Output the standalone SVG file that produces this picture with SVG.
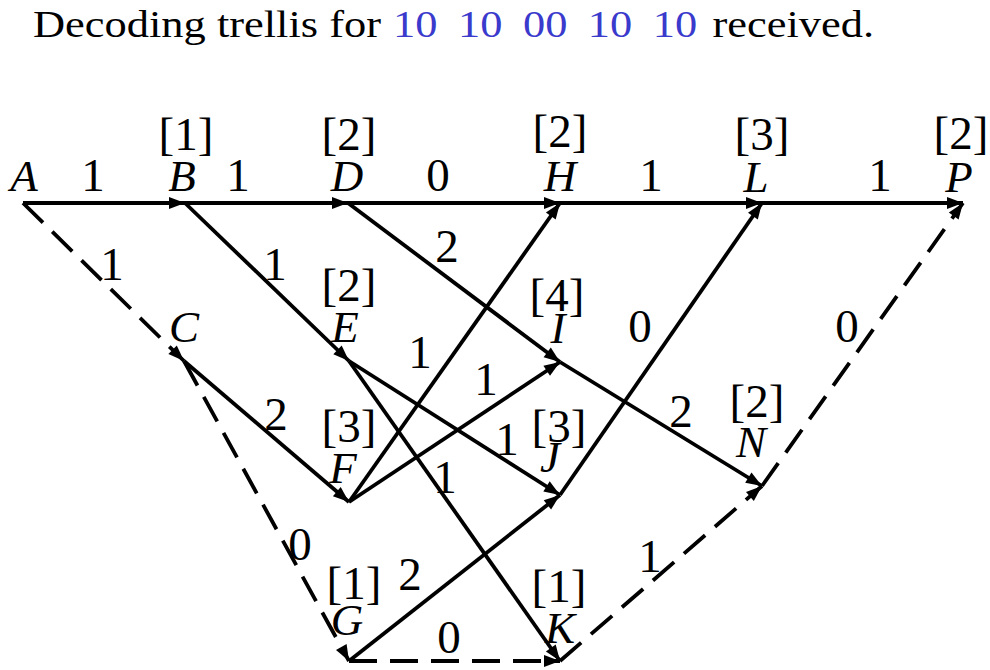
<svg xmlns="http://www.w3.org/2000/svg" width="990" height="670" viewBox="0 0 990 670">
<g id="title" transform="scale(1.17 1)">
<text x="28.2" y="37" font-family="Liberation Serif" font-size="38" fill="#000">Decoding trellis for</text>
<text x="336" y="37" font-family="Liberation Serif" font-size="38" fill="#3a3acc" word-spacing="8">10 10 00 10 10</text>
<text x="609" y="37" font-family="Liberation Serif" font-size="38" fill="#000">received.</text>
</g>
<g id="connectors">
<g stroke="#000" stroke-width="3.8" fill="none">
<line x1="23" y1="203" x2="185" y2="203"/>
<line x1="185" y1="203" x2="348" y2="203"/>
<line x1="348" y1="203" x2="560" y2="203"/>
<line x1="560" y1="203" x2="762" y2="203"/>
<line x1="762" y1="203" x2="963" y2="203"/>
<line stroke-dasharray="28 13" x1="23" y1="203" x2="184" y2="361"/>
<line x1="185" y1="203" x2="349" y2="361"/>
<line x1="348" y1="203" x2="560" y2="362"/>
<line x1="184" y1="361" x2="349" y2="502"/>
<line stroke-dasharray="28 13" x1="184" y1="361" x2="349" y2="661"/>
<line x1="349" y1="361" x2="560" y2="495"/>
<line x1="349" y1="361" x2="560" y2="661"/>
<line x1="349" y1="502" x2="560" y2="203"/>
<line x1="349" y1="502" x2="560" y2="362"/>
<line x1="349" y1="661" x2="560" y2="495"/>
<line stroke-dasharray="28 13" x1="349" y1="661" x2="560" y2="661"/>
<line x1="560" y1="362" x2="762" y2="486"/>
<line x1="560" y1="495" x2="762" y2="203"/>
<line stroke-dasharray="28 13" x1="762" y1="486" x2="963" y2="203"/>
<line stroke-dasharray="28 13" x1="560" y1="661" x2="762" y2="486"/>
</g>
<g fill="#000" stroke="none">
<polygon points="185,203 169,197 169,209"/>
<polygon points="348,203 332,197 332,209"/>
<polygon points="560,203 544,197 544,209"/>
<polygon points="762,203 746,197 746,209"/>
<polygon points="963,203 947,197 947,209"/>
<polygon points="184,361 168.4,354.1 176.8,345.5"/>
<polygon points="349,361 333.3,354.2 341.7,345.6"/>
<polygon points="560,362 543.6,357.2 550.8,347.6"/>
<polygon points="349,502 332.9,496.2 340.7,487"/>
<polygon points="349,661 336,649.9 346.6,644.1"/>
<polygon points="560,495 543.3,491.5 549.7,481.3"/>
<polygon points="560,661 545.9,651.4 555.7,644.5"/>
<polygon points="560,203 555.7,219.5 545.9,212.6"/>
<polygon points="560,362 550,375.8 543.4,365.8"/>
<polygon points="560,495 551.1,509.6 543.7,500.2"/>
<polygon points="560,661 544,655 544,667"/>
<polygon points="762,486 745.2,482.7 751.5,472.5"/>
<polygon points="762,203 757.8,219.6 748,212.8"/>
<polygon points="963,203 958.6,219.5 948.8,212.6"/>
<polygon points="762,486 753.8,501 746,491.9"/>
</g>
<g id="edge-labels" fill="#000">
<text x="93" y="191" font-family="Liberation Serif" font-size="47" text-anchor="middle">1</text>
<text x="238" y="191" font-family="Liberation Serif" font-size="47" text-anchor="middle">1</text>
<text x="438" y="191" font-family="Liberation Serif" font-size="47" text-anchor="middle">0</text>
<text x="651" y="191" font-family="Liberation Serif" font-size="47" text-anchor="middle">1</text>
<text x="880" y="191" font-family="Liberation Serif" font-size="47" text-anchor="middle">1</text>
<text x="112" y="280" font-family="Liberation Serif" font-size="47" text-anchor="middle">1</text>
<text x="275" y="280" font-family="Liberation Serif" font-size="47" text-anchor="middle">1</text>
<text x="447" y="262" font-family="Liberation Serif" font-size="47" text-anchor="middle">2</text>
<text x="276" y="430" font-family="Liberation Serif" font-size="47" text-anchor="middle">2</text>
<text x="300" y="560" font-family="Liberation Serif" font-size="47" text-anchor="middle">0</text>
<text x="507" y="455" font-family="Liberation Serif" font-size="47" text-anchor="middle">1</text>
<text x="445" y="493" font-family="Liberation Serif" font-size="47" text-anchor="middle">1</text>
<text x="420" y="368" font-family="Liberation Serif" font-size="47" text-anchor="middle">1</text>
<text x="486" y="395" font-family="Liberation Serif" font-size="47" text-anchor="middle">1</text>
<text x="410" y="590" font-family="Liberation Serif" font-size="47" text-anchor="middle">2</text>
<text x="449" y="653" font-family="Liberation Serif" font-size="47" text-anchor="middle">0</text>
<text x="681" y="427" font-family="Liberation Serif" font-size="47" text-anchor="middle">2</text>
<text x="640" y="342" font-family="Liberation Serif" font-size="47" text-anchor="middle">0</text>
<text x="847" y="342" font-family="Liberation Serif" font-size="47" text-anchor="middle">0</text>
<text x="650" y="572" font-family="Liberation Serif" font-size="47" text-anchor="middle">1</text>
</g>
</g>
<g id="A"><text x="24" y="191" font-family="Liberation Serif" font-size="45" font-style="italic" text-anchor="middle">A</text></g>
<g id="B"><text x="182" y="191" font-family="Liberation Serif" font-size="45" font-style="italic" text-anchor="middle">B</text><text x="186" y="150" font-family="Liberation Serif" font-size="47" text-anchor="middle">[1]</text></g>
<g id="D"><text x="347" y="191" font-family="Liberation Serif" font-size="45" font-style="italic" text-anchor="middle">D</text><text x="349" y="150" font-family="Liberation Serif" font-size="47" text-anchor="middle">[2]</text></g>
<g id="H"><text x="560" y="191" font-family="Liberation Serif" font-size="45" font-style="italic" text-anchor="middle">H</text><text x="560" y="147" font-family="Liberation Serif" font-size="47" text-anchor="middle">[2]</text></g>
<g id="L"><text x="756" y="192" font-family="Liberation Serif" font-size="45" font-style="italic" text-anchor="middle">L</text><text x="762" y="150" font-family="Liberation Serif" font-size="47" text-anchor="middle">[3]</text></g>
<g id="P"><text x="959" y="192" font-family="Liberation Serif" font-size="45" font-style="italic" text-anchor="middle">P</text><text x="961" y="149" font-family="Liberation Serif" font-size="47" text-anchor="middle">[2]</text></g>
<g id="C"><text x="184" y="342" font-family="Liberation Serif" font-size="45" font-style="italic" text-anchor="middle">C</text></g>
<g id="E"><text x="345" y="342" font-family="Liberation Serif" font-size="45" font-style="italic" text-anchor="middle">E</text><text x="349" y="301" font-family="Liberation Serif" font-size="47" text-anchor="middle">[2]</text></g>
<g id="I"><text x="558" y="343" font-family="Liberation Serif" font-size="45" font-style="italic" text-anchor="middle">I</text><text x="557" y="311" font-family="Liberation Serif" font-size="47" text-anchor="middle">[4]</text></g>
<g id="F"><text x="343" y="483" font-family="Liberation Serif" font-size="45" font-style="italic" text-anchor="middle">F</text><text x="349" y="442" font-family="Liberation Serif" font-size="47" text-anchor="middle">[3]</text></g>
<g id="J"><text x="550" y="472" font-family="Liberation Serif" font-size="45" font-style="italic" text-anchor="middle">J</text><text x="559" y="442" font-family="Liberation Serif" font-size="47" text-anchor="middle">[3]</text></g>
<g id="N"><text x="751" y="457" font-family="Liberation Serif" font-size="45" font-style="italic" text-anchor="middle">N</text><text x="757" y="417" font-family="Liberation Serif" font-size="47" text-anchor="middle">[2]</text></g>
<g id="G"><text x="347" y="635" font-family="Liberation Serif" font-size="45" font-style="italic" text-anchor="middle">G</text><text x="354" y="599" font-family="Liberation Serif" font-size="47" text-anchor="middle">[1]</text></g>
<g id="K"><text x="560" y="643" font-family="Liberation Serif" font-size="45" font-style="italic" text-anchor="middle">K</text><text x="559" y="602" font-family="Liberation Serif" font-size="47" text-anchor="middle">[1]</text></g>
</svg>
